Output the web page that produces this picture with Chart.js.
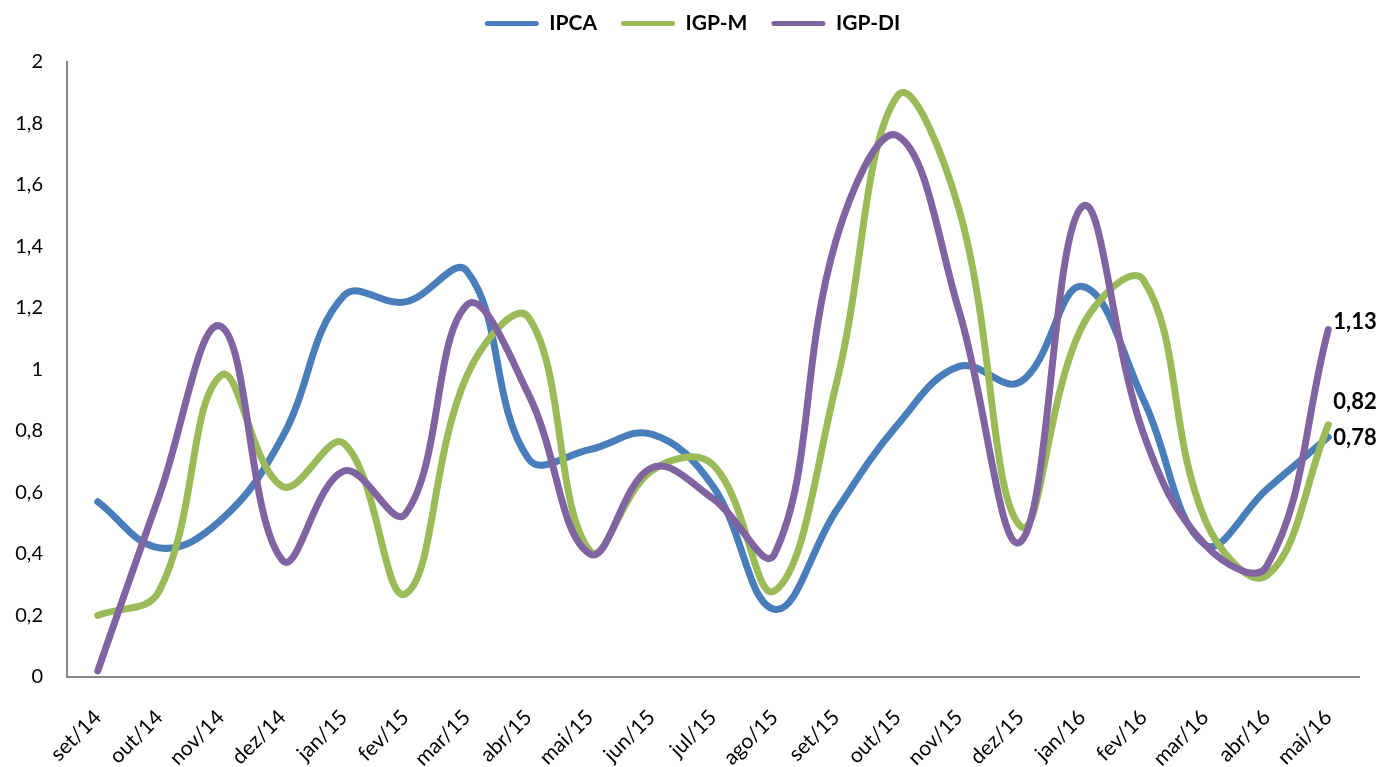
<!DOCTYPE html>
<html>
<head>
<meta charset="utf-8">
<script src="https://cdn.jsdelivr.net/npm/chart.js@4/dist/chart.umd.min.js"></script>
<style>
    html, body { margin: 0; padding: 0; background: #fff; }
    #wrap { width: 1383px; height: 767px; }
</style>
</head>
<body>
<div id="wrap"><canvas id="inflationChart"></canvas></div>
<script>
// Monthly inflation, % (set/14 - mai/16)
const months = ['set/14', 'out/14', 'nov/14', 'dez/14', 'jan/15', 'fev/15', 'mar/15', 'abr/15', 'mai/15', 'jun/15', 'jul/15',
    'ago/15', 'set/15', 'out/15', 'nov/15', 'dez/15', 'jan/16', 'fev/16', 'mar/16', 'abr/16', 'mai/16'];
const ipca = [0.57, 0.42, 0.51, 0.78, 1.24, 1.22, 1.32, 0.71, 0.74, 0.79, 0.62, 0.22, 0.54, 0.82, 1.01, 0.96, 1.27, 0.90, 0.43, 0.61, 0.78];
const igpm = [0.20, 0.28, 0.98, 0.62, 0.76, 0.27, 0.98, 1.17, 0.41, 0.67, 0.69, 0.28, 0.95, 1.89, 1.52, 0.49, 1.14, 1.29, 0.51, 0.33, 0.82];
const igpdi = [0.02, 0.59, 1.14, 0.38, 0.67, 0.53, 1.21, 0.92, 0.40, 0.68, 0.58, 0.40, 1.42, 1.76, 1.19, 0.44, 1.53, 0.79, 0.43, 0.36, 1.13];
const yTicks = [0, 0.2, 0.4, 0.6, 0.8, 1, 1.2, 1.4, 1.6, 1.8, 2];

const FONT = "Lato, 'Open Sans', sans-serif";
const AXIS_COLOR = '#868686';

function ptBR(v, digits) {
    return Number(v.toFixed(digits)).toString().replace('.', ',');
}

// writes the value of the last point of each series next to it
const lastValueLabels = {
    id: 'lastValueLabels',
    afterDatasetsDraw(chart) {
        const ctx = chart.ctx;
        ctx.save();
        ctx.font = `bold 22px ${FONT}`;
        ctx.fillStyle = '#000';
        ctx.textAlign = 'left';
        ctx.textBaseline = 'middle';
        chart.data.datasets.forEach((ds, i) => {
            const meta = chart.getDatasetMeta(i);
            const last = meta.data[meta.data.length - 1];
            if (!last) return;
            const [dx, dy] = ds.labelOffset || [6, 0];
            const value = ds.data[ds.data.length - 1];
            ctx.fillText(value.toFixed(2).replace('.', ','), last.x + dx, last.y + dy);
        });
        ctx.restore();
    }
};

// legend sits higher than chart.js puts it, and a bit to the right
const legendPlacement = {
    id: 'legendPlacement',
    beforeLayout(chart) {
        const legend = chart.legend;
        if (!legend || legend._patched) return;
        const fit = legend.fit;
        legend.fit = function () {
            fit.call(this);
            this.height += 18;
        };
        legend._patched = true;
    },
    afterLayout(chart) {
        const legend = chart.legend;
        if (!legend) return;
        legend.left += 13;
        legend.right += 13;
    }
};

function makeSeries(label, data, color, order, labelOffset) {
    return {
        label: label,
        data: data,
        borderColor: color,
        backgroundColor: color,
        borderWidth: 7,
        borderCapStyle: 'round',
        borderJoinStyle: 'round',
        pointRadius: 0,
        pointHoverRadius: 0,
        tension: 0.4,
        fill: false,
        order: order,
        labelOffset: labelOffset
    };
}

new Chart(document.getElementById('inflationChart'), {
    type: 'line',
    data: {
        labels: months,
        datasets: [
            makeSeries('IPCA', ipca, '#4a7ebb', 3, [5, 1]),
            makeSeries('IGP-M', igpm, '#9bbb59', 2, [5, -23]),
            makeSeries('IGP-DI', igpdi, '#8064a2', 1, [5, -8])
        ]
    },
    options: {
        responsive: true,
        maintainAspectRatio: false,
        animation: false,
        layout: { padding: { top: -11, right: 24, left: 0, bottom: 0 } },
        plugins: {
            tooltip: { enabled: false },
            legend: {
                position: 'top',
                labels: {
                    font: { family: FONT, size: 21, weight: 'bold' },
                    color: '#000',
                    boxWidth: 54,
                    boxHeight: 5,
                    useBorderRadius: true,
                    borderRadius: 2.5,
                    padding: 24,
                    sort: (a, b) => a.datasetIndex - b.datasetIndex,
                    generateLabels: (chart) => Chart.defaults.plugins.legend.labels.generateLabels(chart)
                        .map(item => Object.assign(item, { lineWidth: 0, fillStyle: item.strokeStyle }))
                }
            }
        },
        scales: {
            x: {
                offset: true,
                grid: { display: false, drawTicks: false },
                border: { display: true, color: AXIS_COLOR, width: 2 },
                ticks: {
                    font: { family: FONT, size: 21 },
                    color: '#000',
                    minRotation: 45,
                    maxRotation: 45,
                    padding: 28,
                    autoSkip: false
                },
                afterFit: (scale) => { scale.height = 90; }
            },
            y: {
                min: 0,
                max: 2,
                afterBuildTicks: (scale) => { scale.ticks = yTicks.map(v => ({ value: v })); },
                grid: { display: false, drawTicks: false },
                border: { display: true, color: AXIS_COLOR, width: 2 },
                ticks: {
                    font: { family: FONT, size: 20 },
                    color: '#000',
                    padding: 24,
                    callback: (v) => ptBR(v, 1)
                },
                afterFit: (scale) => { scale.width = 67; }
            }
        }
    },
    plugins: [lastValueLabels, legendPlacement]
});
</script>
</body>
</html>
